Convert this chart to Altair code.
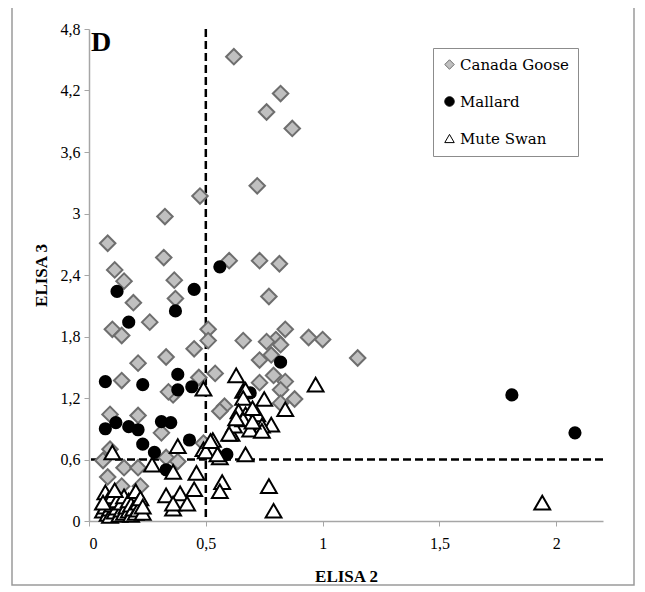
import altair as alt
import pandas as pd

species = ["Canada Goose", "Mallard", "Mute Swan"]

goose_x = [0.62, 0.82, 0.76, 0.87, 0.72, 0.475, 0.325, 0.08, 0.32, 0.60, 0.73, 0.815,
           0.11, 0.15, 0.365, 0.77, 0.19, 0.37, 0.26, 0.10, 0.14, 0.51, 0.51, 0.66,
           0.45, 0.33, 0.21, 0.14, 0.47, 0.54, 0.84, 0.80, 0.82, 0.94, 1.00, 0.73,
           0.78, 0.79, 0.84, 0.73, 0.82, 0.88, 0.82, 0.58, 0.56, 1.15, 0.36, 0.09,
           0.21, 0.31, 0.09, 0.06, 0.15, 0.21, 0.33, 0.38, 0.08, 0.14, 0.22, 0.49,
           0.76, 0.34]
goose_y = [4.53, 4.17, 3.99, 3.83, 3.27, 3.17, 2.97, 2.71, 2.57, 2.54, 2.54, 2.51,
           2.45, 2.34, 2.35, 2.19, 2.13, 2.17, 1.94, 1.87, 1.81, 1.87, 1.76, 1.76,
           1.68, 1.60, 1.54, 1.37, 1.40, 1.44, 1.87, 1.77, 1.72, 1.79, 1.77, 1.57,
           1.62, 1.42, 1.36, 1.35, 1.28, 1.19, 1.15, 1.12, 1.07, 1.59, 1.23, 1.04,
           1.03, 0.86, 0.70, 0.59, 0.52, 0.52, 0.62, 0.58, 0.43, 0.34, 0.34, 0.76,
           1.75, 1.26]

mallard_x = [0.56, 0.12, 0.45, 0.37, 0.17, 0.07, 0.23, 0.38, 0.38, 0.44, 0.07, 0.115,
             0.17, 0.21, 0.31, 0.35, 0.23, 0.28, 0.43, 0.33, 0.59, 0.82, 0.69, 1.81,
             2.08]
mallard_y = [2.48, 2.24, 2.26, 2.05, 1.94, 1.36, 1.33, 1.43, 1.28, 1.31, 0.90, 0.96,
             0.92, 0.89, 0.97, 0.96, 0.75, 0.67, 0.79, 0.50, 0.65, 1.55, 1.25, 1.23,
             0.86]

swan_x = [0.06, 0.07, 0.07, 0.08, 0.08, 0.09, 0.09, 0.10, 0.10, 0.11, 0.12, 0.12,
          0.13, 0.14, 0.14, 0.15, 0.15, 0.16, 0.17, 0.17, 0.18, 0.18, 0.19, 0.20,
          0.20, 0.21, 0.21, 0.22, 0.23, 0.23, 0.11, 0.06,
          0.10, 0.27, 0.38, 0.36, 0.46, 0.49, 0.53, 0.57, 0.56, 0.61, 0.67, 0.56,
          0.33, 0.39, 0.45, 0.36, 0.36, 0.42, 0.50, 0.55, 0.77, 0.79, 0.49, 0.63,
          0.66, 0.97, 0.67, 0.75, 0.66, 0.84, 0.64, 0.67, 0.72, 0.78, 0.74, 0.62,
          0.69, 0.74, 0.60, 0.66, 0.70, 0.52, 1.94, 0.70, 0.63]
swan_y = [0.10, 0.14, 0.28, 0.07, 0.20, 0.12, 0.05, 0.16, 0.24, 0.09, 0.13, 0.20,
          0.06, 0.11, 0.18, 0.24, 0.08, 0.14, 0.10, 0.20, 0.06, 0.16, 0.12, 0.29,
          0.08, 0.18, 0.11, 0.22, 0.08, 0.14, 0.30, 0.18,
          0.67, 0.55, 0.73, 0.48, 0.47, 0.70, 0.79, 0.38, 0.29, 0.85, 0.65, 0.62,
          0.25, 0.27, 0.31, 0.12, 0.17, 0.17, 0.68, 0.65, 0.34, 0.10, 1.29, 1.42,
          1.27, 1.33, 1.28, 1.19, 1.20, 1.09, 1.07, 1.04, 1.04, 0.94, 0.93, 0.93,
          0.89, 0.88, 0.85, 0.99, 0.97, 0.78, 0.18, 1.10, 1.00]

cutoff_x = [0.5]
cutoff_y = [0.6]

x_ticks = [0, 0.5, 1, 1.5, 2]
y_ticks = [0, 0.6, 1.2, 1.8, 2.4, 3, 3.6, 4.2, 4.8]

series = {
    species[0]: pd.DataFrame({"species": species[0], "x": goose_x, "y": goose_y}),
    species[1]: pd.DataFrame({"species": species[1], "x": mallard_x, "y": mallard_y}),
    species[2]: pd.DataFrame({"species": species[2], "x": swan_x, "y": swan_y}),
}
sizes = {species[0]: 240, species[1]: 125, species[2]: 250}

W, H = 514, 492
SERIF = "Liberation Serif"
label_expr = "replace(format(datum.value, '.2~f'), '.', ',')"

xscale = alt.Scale(domain=[0, 2.2], nice=False)
yscale = alt.Scale(domain=[0, 4.8], nice=False)

shape_scale = alt.Scale(domain=species, range=["diamond", "circle", "triangle-up"])
fill_scale = alt.Scale(domain=species, range=["#c0c0c0", "#000000", "#ffffff"])
stroke_scale = alt.Scale(domain=species, range=["#6e6e6e", "#000000", "#000000"])

legend = alt.Legend(
    title=None, orient="none", legendX=344, legendY=19,
    fillColor="white", strokeColor="#8c8c8c", padding=9,
    labelFont="DejaVu Serif", labelFontWeight="normal", labelFontSize=15,
    labelColor="black", labelLimit=300,
    symbolSize=90, symbolStrokeWidth=1, rowPadding=21, labelOffset=3,
)

x_enc = alt.X("x:Q", scale=xscale,
              axis=alt.Axis(values=x_ticks, title="ELISA 2", labelExpr=label_expr,
                            labelFont="Times New Roman", labelFontWeight="normal",
                            titleFont=SERIF, labelPadding=9, titlePadding=17))
y_enc = alt.Y("y:Q", scale=yscale,
              axis=alt.Axis(values=y_ticks, title="ELISA 3", labelExpr=label_expr,
                            labelFont="Times New Roman", labelFontWeight="normal",
                            titleFont=SERIF, labelPadding=4, titlePadding=10))

point_layers = []
for sp in species:
    point_layers.append(
        alt.Chart(series[sp]).mark_point(
            filled=True, opacity=1, fillOpacity=1, strokeWidth=2, size=sizes[sp]
        ).encode(
            x=x_enc, y=y_enc,
            shape=alt.Shape("species:N", scale=shape_scale, legend=legend),
            fill=alt.Fill("species:N", scale=fill_scale, legend=legend),
            stroke=alt.Stroke("species:N", scale=stroke_scale, legend=legend),
        )
    )

vline = alt.Chart(pd.DataFrame({"x": cutoff_x})).mark_rule(
    color="black", strokeWidth=2.5, strokeDash=[8, 4]).encode(x=alt.X("x:Q", scale=xscale))
hline = alt.Chart(pd.DataFrame({"y": cutoff_y})).mark_rule(
    color="black", strokeWidth=2.5, strokeDash=[8, 4]).encode(y=alt.Y("y:Q", scale=yscale))

label_d = alt.Chart(pd.DataFrame({"t": ["D"]})).mark_text(
    font=SERIF, fontSize=28, fontWeight="bold", color="black", align="center", baseline="middle"
).encode(text="t:N", x=alt.value(12), y=alt.value(14))

border = alt.Chart(pd.DataFrame({"b": [1]})).mark_rect(
    fill="transparent", stroke="#9a9a9a", strokeWidth=1.5, clip=False
).encode(x=alt.value(-77), x2=alt.value(545), y=alt.value(-22), y2=alt.value(556))

chart = alt.layer(border, vline, hline, *point_layers, label_d).properties(
    width=W, height=H,
    autosize=alt.AutoSizeParams(type="none"),
    padding={"left": 81, "top": 21, "right": 34, "bottom": 68},
).configure_view(strokeWidth=0).configure_axis(
    grid=False, domainColor="#a6a6a6", tickColor="#a6a6a6", tickSize=5, domainWidth=1.5,
    labelFontSize=16, labelColor="black",
    titleFont=SERIF, titleFontSize=17, titleFontWeight="bold", titleColor="black",
)

chart.save("out.html", embed_options={"renderer": "svg", "actions": False})
